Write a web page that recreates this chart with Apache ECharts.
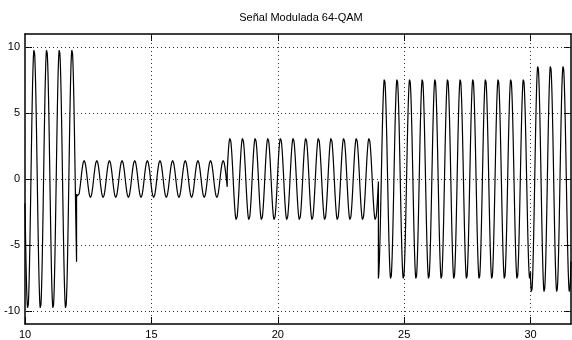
<!DOCTYPE html>
<html><head><meta charset="utf-8">
<script src="https://cdn.jsdelivr.net/npm/echarts@6/dist/echarts.min.js"></script>
<style>html,body{margin:0;padding:0;background:#fff}#c{width:572px;height:340px}</style>
</head><body><div id="c"></div>
<script>
// ---- data ----
const titleText = 'Señal Modulada 64-QAM';
const xTicks = [10, 15, 20, 25, 30];
const xGrid = [15, 20, 25, 30];
const yTicks = [-10, -5, 0, 5, 10];
// 64-QAM symbols shown: start/end time, envelope amplitude, carrier peak offset (mod period)
const segStart = [10, 12.04, 18, 23.98, 30];
const segEnd   = [12.04, 18, 23.98, 30, 31.6];
const segAmp   = [9.85, 1.4, 3.1, 7.6, 8.6];
const segPeak  = [0.36, 0.34, 0.11, 0.22, 0.29];
const carrierPeriod = 0.5;
const sampleStep = 0.01;

// ---- build the waveform from the symbol table ----
const signal = [];
for (let i = 0; i < segStart.length; i++) {
  const n = Math.round((segEnd[i] - segStart[i]) / sampleStep);
  for (let k = 0; k <= n; k++) {
    const t = segStart[i] + k * (segEnd[i] - segStart[i]) / n;
    signal.push([t, segAmp[i] * Math.cos(2 * Math.PI * (t - segPeak[i]) / carrierPeriod)]);
  }
}

const FONT = '"Liberation Sans", Arial, sans-serif';
const chart = echarts.init(document.getElementById('c'), null, {renderer: 'canvas'});
const gridLine = {color: '#333', width: 1, type: [1, 3]};
const frame = {color: '#000', width: 1.5};
chart.setOption({
  animation: false,
  backgroundColor: '#fff',
  graphic: [{
    type: 'text', x: 301, y: 17.5,
    style: {text: titleText, align: 'center', verticalAlign: 'middle',
            font: '11px ' + FONT, fill: '#000'}
  }],
  grid: {left: 25, top: 34, right: 1, bottom: 14, containLabel: false},
  xAxis: [{
    type: 'value', min: 10, max: 31.6, position: 'bottom',
    axisLine: {show: true, onZero: false, lineStyle: frame},
    axisTick: {show: true, inside: true, length: 7, customValues: xTicks, lineStyle: {color: '#000'}},
    axisLabel: {show: true, customValues: xTicks, color: '#000', fontSize: 11, fontFamily: FONT, margin: 5},
    splitLine: {show: false}
  }, {
    type: 'value', min: 10, max: 31.6, position: 'top',
    axisLine: {show: true, onZero: false, lineStyle: frame},
    axisTick: {show: true, inside: true, length: 7, customValues: xGrid, lineStyle: {color: '#000'}},
    axisLabel: {show: false},
    splitLine: {show: false}
  }],
  yAxis: [{
    type: 'value', min: -11, max: 11, position: 'left',
    axisLine: {show: true, onZero: false, lineStyle: frame},
    axisTick: {show: true, inside: true, length: 7, customValues: yTicks, lineStyle: {color: '#000'}},
    axisLabel: {show: true, customValues: yTicks, color: '#000', fontSize: 11, fontFamily: FONT, margin: 5},
    splitLine: {show: false}
  }, {
    type: 'value', min: -11, max: 11, position: 'right',
    axisLine: {show: true, onZero: false, lineStyle: frame},
    axisTick: {show: true, inside: true, length: 7, customValues: yTicks, lineStyle: {color: '#000'}},
    axisLabel: {show: false},
    splitLine: {show: false}
  }],
  series: [{
    type: 'line',
    xAxisIndex: 0, yAxisIndex: 0,
    data: signal,
    showSymbol: false,
    symbol: 'none',
    sampling: false,
    lineStyle: {color: '#000', width: 1.2},
    silent: true,
    z: 3,
    markLine: {
      silent: true, symbol: ['none', 'none'], label: {show: false},
      lineStyle: gridLine, animation: false, z: 1,
      emphasis: {disabled: true},
      data: yTicks.map(v => ({yAxis: v})).concat(xGrid.map(v => ({xAxis: v})))
    }
  }]
});
</script>
</body></html>
